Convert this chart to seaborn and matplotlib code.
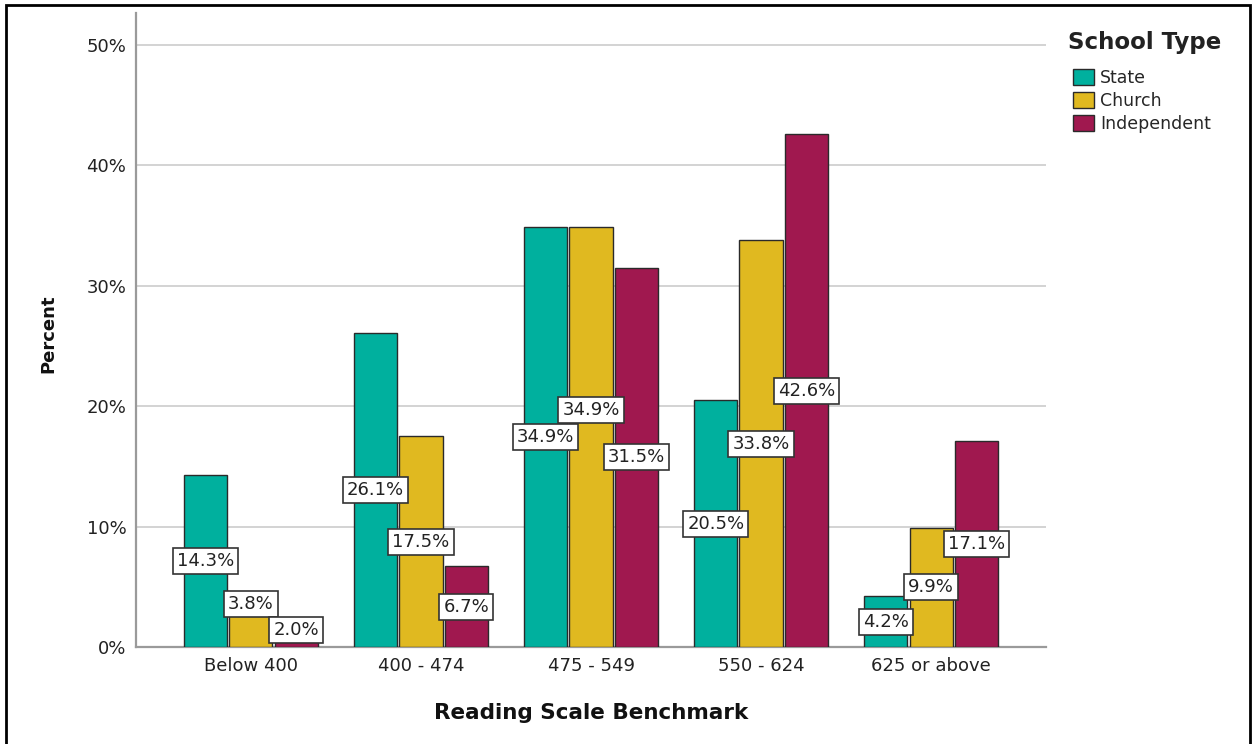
import matplotlib
matplotlib.use("Agg")
import matplotlib.pyplot as plt
from matplotlib.patches import Patch, Rectangle
from matplotlib.ticker import FuncFormatter, MultipleLocator
import seaborn as sns
import pandas as pd

categories = ["Below 400", "400 - 474", "475 - 549", "550 - 624", "625 or above"]
school_types = ["State", "Church", "Independent"]
state = [14.3, 26.1, 34.9, 20.5, 4.2]
church = [3.8, 17.5, 34.9, 33.8, 9.9]
independent = [2.0, 6.7, 31.5, 42.6, 17.1]
colors = ["#00B09E", "#E0B920", "#A0184F"]

rows = []
for st, vals in zip(school_types, [state, church, independent]):
    for c, v in zip(categories, vals):
        rows.append({"Benchmark": c, "School Type": st, "Percent": v})
df = pd.DataFrame(rows)

sns.set_style("white")
plt.rcParams["font.family"] = ["DejaVu Sans"]

W, H = 1253, 744
fig = plt.figure(figsize=(W / 100, H / 100), dpi=100)
ax = fig.add_axes([136 / W, 1 - 647 / H, (1046 - 136) / W, (647 - 13) / H])

sns.barplot(data=df, x="Benchmark", y="Percent", hue="School Type",
            order=categories, hue_order=school_types, palette=colors,
            width=0.8, gap=0.05, edgecolor="#2a2a2a", linewidth=1.0,
            saturation=1, errorbar=None, legend=False, ax=ax, zorder=3)

ax.set_xlim(-0.676, 4.676)
ax.set_ylim(0, 52.66)
ax.yaxis.set_major_locator(MultipleLocator(10))
ax.yaxis.set_major_formatter(FuncFormatter(lambda v, p: f"{v:.0f}%"))
ax.grid(axis="y", color="#cccccc", linewidth=1.2, zorder=0)
ax.set_axisbelow(True)
for s in ["top", "right"]:
    ax.spines[s].set_visible(False)
ax.spines["left"].set_color("#9a9a9a")
ax.spines["left"].set_linewidth(1.6)
ax.spines["bottom"].set_color("#9a9a9a")
ax.spines["bottom"].set_linewidth(1.6)
ax.tick_params(axis="both", length=0, labelsize=13, colors="#222222")
ax.tick_params(axis="y", pad=7)
ax.tick_params(axis="x", pad=7)

ax.set_xlabel("Reading Scale Benchmark", fontsize=15.5, fontweight="bold", color="#111111")
ax.set_ylabel("Percent", fontsize=13, fontweight="bold", color="#111111")
ax.xaxis.set_label_coords(0.5, -0.088)
ax.yaxis.set_label_coords(-0.086, 0.494)

# value labels: at half bar height, nudged to avoid overlaps
min_y = 1.4
box_h = 2.2
groups = {}
for cont in ax.containers:
    for i, bar in enumerate(cont):
        v = bar.get_height()
        xc = bar.get_x() + bar.get_width() / 2
        groups.setdefault(i, []).append([xc, max(v / 2, min_y), v])
for i, labs in groups.items():
    for k in range(1, len(labs)):
        a, b = labs[k - 1], labs[k]
        if abs(a[1] - b[1]) < box_h:
            if b[1] < a[1]:
                a[1] = b[1] + box_h
            else:
                b[1] = a[1] + box_h
    for xc, y, v in labs:
        ax.text(xc, y, f"{v:.1f}%", ha="center", va="center", fontsize=13,
                color="#222222", zorder=5,
                bbox=dict(boxstyle="square,pad=0.22", fc="white", ec="#333333", lw=1.2))

# legend: title as separate text, entries below
fig.text(1068 / W, 1 - 42 / H, "School Type", ha="left", va="center",
         fontsize=16.5, fontweight="bold", color="#222222")
handles = [Patch(facecolor=c, edgecolor="#2a2a2a", linewidth=1.0) for c in colors]
leg = fig.legend(handles, school_types, loc="upper left",
                 bbox_to_anchor=(1073 / W, 1 - 69 / H), frameon=False,
                 fontsize=12.5, handlelength=1.2, handleheight=1.05,
                 handletextpad=0.35, labelspacing=0.28, borderpad=0,
                 borderaxespad=0)

fig.patches.append(Rectangle((6 / W, -0.02), (1250 - 6) / W, 1 - 5 / H + 0.02,
                             transform=fig.transFigure, fill=False,
                             edgecolor="black", linewidth=2, clip_on=False))

fig.savefig("out.png", dpi=100, facecolor="white")
